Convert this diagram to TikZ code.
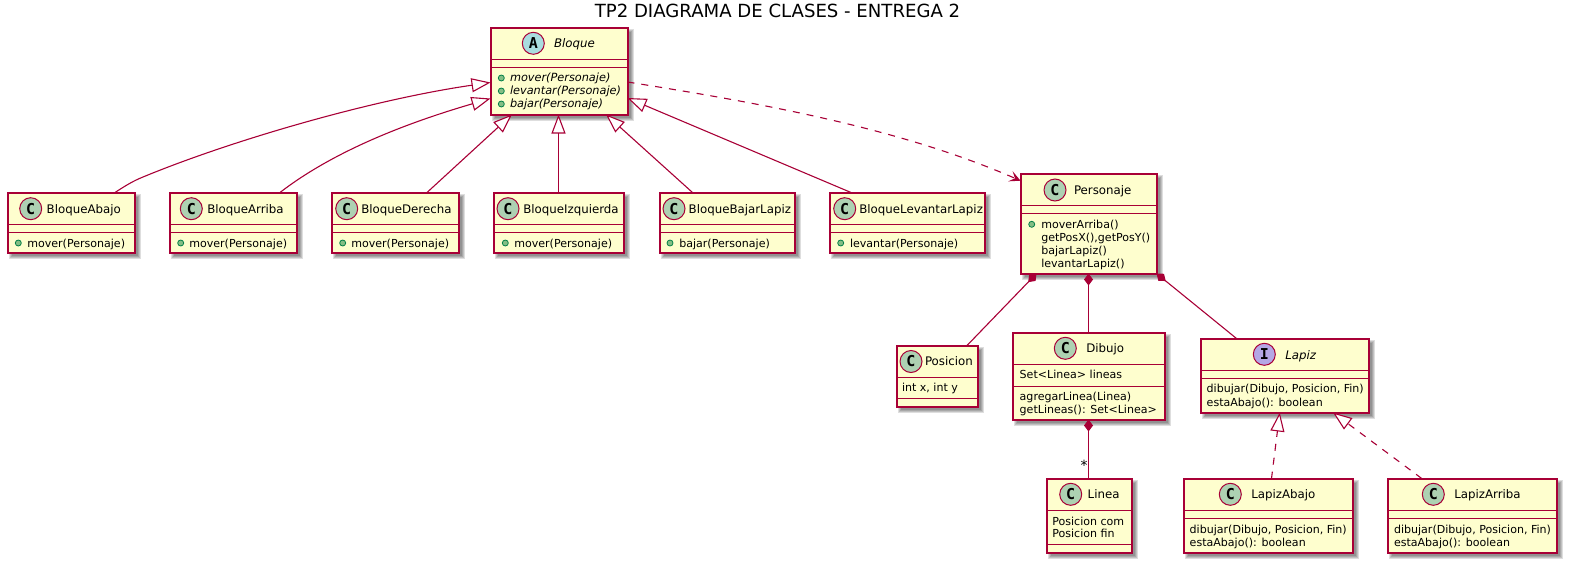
\documentclass[tikz,border=0pt]{standalone}
\usepackage{fontspec}
\setmainfont{DejaVu Sans}
\newfontfamily\letterfont{DejaVu Sans Mono}
\usetikzlibrary{arrows.meta}
\definecolor{umlred}{HTML}{A80036}
\definecolor{umlfill}{HTML}{FEFECE}
\definecolor{circC}{HTML}{ADD1B2}
\definecolor{circA}{HTML}{A9DCDF}
\definecolor{circI}{HTML}{B4A7E5}
\definecolor{plusfill}{HTML}{84BE84}
\definecolor{plusline}{HTML}{038048}
\newcount\uid
\newcommand\nameFont{\fontsize{11.8}{14}\selectfont}
\newcommand\memFont{\fontsize{11.05}{13}\selectfont}
\newcommand\absFont{\fontsize{11.3}{13}\selectfont\itshape}
% id x1 y1 x2 y2 line1 line2
\newcommand\umlclassbox[7]{%
  \foreach \e in {2.5,1.5,.5,-.5}{\fill[black,opacity=.13] (#2+4-\e,#3+4-\e) rectangle (#4+4+\e,#5+4+\e);}
  \node[umlbox,minimum width={(#4)-(#2)},minimum height={(#5)-(#3)}] (#1) at ({(#2+#4)/2},{(#3+#5)/2}) {};
  \draw[sectionline] (#2,#6) -- (#4,#6);
  \draw[sectionline] (#2,#7) -- (#4,#7);
}
\newcommand\umlcircle[4]{\global\advance\uid 1
  \node[headcircle,fill=#4] (c\the\uid) at (#1,#2) {\letterfont\bfseries\fontsize{15}{15}\selectfont #3};}
\newcommand\nametext[3]{\global\advance\uid 1
  \node[txt] (n\the\uid) at (#1,#2) {\nameFont #3};}
\newcommand\memtext[3]{\global\advance\uid 1
  \node[txt] (m\the\uid) at (#1,#2) {\memFont #3};}
\newcommand\abstext[3]{\global\advance\uid 1
  \node[txt] (m\the\uid) at (#1,#2) {\absFont #3};}
\newcommand\plusmark[2]{\global\advance\uid 1
  \node[plusdot] (p\the\uid) at (#1,#2) {};}
\tikzset{
  umlbox/.style={draw=umlred,fill=umlfill,line width=2pt,inner sep=0pt,outer sep=0pt,rectangle},
  sectionline/.style={draw=umlred,line width=1.5pt},
  headcircle/.style={circle,draw=umlred,line width=1pt,minimum size=22pt,inner sep=0pt,text=black},
  txt/.style={anchor=base west,inner sep=0pt,outer sep=0pt,text=black},
  plusdot/.style={circle,draw=plusline,fill=plusfill,line width=.8pt,minimum size=6pt,inner sep=0pt},
  conn/.style={draw=umlred,line width=1.1pt},
  dashedconn/.style={conn,dash pattern=on 7pt off 7pt},
  inherit/.style={-{Triangle[open,length=19pt,width=14pt,fill=white]}},
  compose/.style={{Diamond[length=12pt,width=9pt,fill=umlred]}-},
  depends/.style={-{Stealth[length=11pt,width=11pt,inset=5pt,fill=umlred]}},
}
\begin{document}
\begin{tikzpicture}[x=1pt,y=-1pt]
\useasboundingbox (0,0) rectangle (1569,565);
\node[anchor=base,inner sep=0pt] (title) at (777.5,17) {\fontsize{18.1}{20}\selectfont TP2 DIAGRAMA DE CLASES - ENTREGA 2};

% Bloque
\umlclassbox{bloque}{490.5}{27.5}{627.5}{114.5}{59.5}{67.5}
\umlcircle{533.3}{43.3}{A}{circA}
\nametext{554}{47.3}{\itshape Bloque}
\plusmark{501.3}{78}\abstext{510}{81.7}{mover(Personaje)}
\plusmark{501.3}{91}\abstext{510}{94.5}{levantar(Personaje)}
\plusmark{501.3}{104}\abstext{510}{107}{bajar(Personaje)}

% children row
\umlclassbox{abajo}{7.5}{192.5}{134.5}{252.5}{224.5}{232.5}
\umlcircle{30.7}{208.7}{C}{circC}
\nametext{46.7}{213.3}{BloqueAbajo}
\plusmark{18.3}{243}\memtext{27.3}{247}{mover(Personaje)}

\umlclassbox{arriba}{169.5}{192.5}{296.5}{252.5}{224.5}{232.5}
\umlcircle{191.3}{208.7}{C}{circC}
\nametext{207.3}{213.3}{BloqueArriba}
\plusmark{180.7}{243}\memtext{189.3}{247}{mover(Personaje)}

\umlclassbox{derecha}{331.5}{192.5}{458.5}{252.5}{224.5}{232.5}
\umlcircle{346.7}{208.7}{C}{circC}
\nametext{361.3}{213.3}{BloqueDerecha}
\plusmark{342.7}{243}\memtext{351.3}{247}{mover(Personaje)}

\umlclassbox{izquierda}{493.5}{192.5}{623.5}{252.5}{224.5}{232.5}
\umlcircle{508}{208.7}{C}{circC}
\nametext{523.3}{213.3}{BloqueIzquierda}
\plusmark{505.3}{243}\memtext{514.3}{247}{mover(Personaje)}

\umlclassbox{bajarlapiz}{659.5}{192.5}{794.5}{252.5}{224.5}{232.5}
\umlcircle{674}{208.7}{C}{circC}
\nametext{688.7}{213.3}{BloqueBajarLapiz}
\plusmark{670}{243}\memtext{679.3}{247}{bajar(Personaje)}

\umlclassbox{levantarlapiz}{829.5}{192.5}{984.5}{252.5}{224.5}{232.5}
\umlcircle{844.7}{208.7}{C}{circC}
\nametext{859.3}{213.3}{BloqueLevantarLapiz}
\plusmark{840.7}{243}\memtext{850}{247}{levantar(Personaje)}

% Personaje
\umlclassbox{personaje}{1020.5}{173.5}{1156.5}{273.5}{205.5}{213.5}
\umlcircle{1055}{190}{C}{circC}
\nametext{1074}{194}{Personaje}
\plusmark{1031.7}{224.3}\memtext{1041.3}{228}{moverArriba()}
\memtext{1041.3}{241}{getPosX(),getPosY()}
\memtext{1041.3}{254}{bajarLapiz()}
\memtext{1041.3}{267}{levantarLapiz()}

% Posicion
\umlclassbox{posicion}{896.5}{345.5}{977.5}{406.5}{377.5}{398.5}
\umlcircle{911}{361.5}{C}{circC}
\nametext{925}{365.7}{Posicion}
\memtext{902}{391.7}{int x, int y}

% Dibujo
\umlclassbox{dibujo}{1012.5}{332.5}{1164.5}{419.5}{364.5}{386.5}
\umlcircle{1065.3}{348.3}{C}{circC}
\nametext{1086.3}{352.7}{Dibujo}
\memtext{1019.7}{378.3}{Set<Linea> lineas}
\memtext{1019.7}{400.3}{agregarLinea(Linea)}
\memtext{1019.7}{413.3}{getLineas(): Set<Linea>}

% Lapiz
\umlclassbox{lapiz}{1200.5}{338.5}{1368.5}{412.5}{370.5}{378.5}
\umlcircle{1264.3}{354.3}{I}{circI}
\nametext{1285.3}{359}{\itshape Lapiz}
\memtext{1206.7}{392.7}{dibujar(Dibujo, Posicion, Fin)}
\memtext{1206.7}{406}{estaAbajo(): boolean}

% Linea
\umlclassbox{linea}{1046.5}{478.5}{1131.5}{552.5}{510.5}{544.5}
\umlcircle{1070.7}{494.3}{C}{circC}
\nametext{1087.7}{498.7}{Linea}
\memtext{1052.3}{525}{Posicion com}
\memtext{1052.3}{537.7}{Posicion fin}

% LapizAbajo
\umlclassbox{lapizabajo}{1183.5}{478.5}{1352.5}{552.5}{510.5}{518.5}
\umlcircle{1230.3}{494.3}{C}{circC}
\nametext{1251.3}{498.7}{LapizAbajo}
\memtext{1189.7}{533.3}{dibujar(Dibujo, Posicion, Fin)}
\memtext{1189.7}{546}{estaAbajo(): boolean}

% LapizArriba
\umlclassbox{lapizarriba}{1387.5}{478.5}{1556.5}{552.5}{510.5}{518.5}
\umlcircle{1433.3}{494.3}{C}{circC}
\nametext{1454.3}{498.7}{LapizArriba}
\memtext{1394}{533.3}{dibujar(Dibujo, Posicion, Fin)}
\memtext{1394}{546}{estaAbajo(): boolean}

% Inheritance
\draw[conn,inherit] ([xshift=44pt]abajo.north) .. controls (125,186) and (133,181) .. (143,177) .. controls (230,141) and (370,100) .. ([yshift=-11.5pt]bloque.west);
\draw[conn,inherit] ([xshift=47pt]arriba.north) .. controls (335,150) and (410,122) .. ([yshift=-27.5pt]bloque.west);
\draw[conn,inherit] ([xshift=32pt]derecha.north) -- ([xshift=-47pt]bloque.south);
\draw[conn,inherit] (izquierda.north) -- (izquierda.north |- bloque.south);
\draw[conn,inherit] ([xshift=-34.5pt]bajarlapiz.north) -- ([xshift=47pt]bloque.south);
\draw[conn,inherit] ([xshift=-56pt]levantarlapiz.north) -- ([yshift=-27pt]bloque.east);
% Dependency
\draw[dashedconn,depends] ([yshift=-11pt]bloque.east) .. controls (760,103) and (900,128) .. ([yshift=42.8pt]personaje.west);
% Composition
\draw[conn,compose] ([xshift=-52pt]personaje.south) -- ([xshift=30pt]posicion.north);
\draw[conn,compose] (personaje.south) -- (personaje.south |- dibujo.north);
\draw[conn,compose] ([xshift=68pt]personaje.south) -- ([xshift=-48pt]lapiz.north);
\draw[conn,compose] (dibujo.south) -- (dibujo.south |- linea.north);
\node[inner sep=0pt] (star) at (1084,465) {\fontsize{14}{14}\selectfont *};
% Realisation
\draw[dashedconn,inherit] ([xshift=3.5pt]lapizabajo.north) -- ([xshift=-4.75pt]lapiz.south);
\draw[dashedconn,inherit] ([xshift=-50.3pt]lapizarriba.north) -- ([xshift=48.5pt]lapiz.south);
\end{tikzpicture}
\end{document}
